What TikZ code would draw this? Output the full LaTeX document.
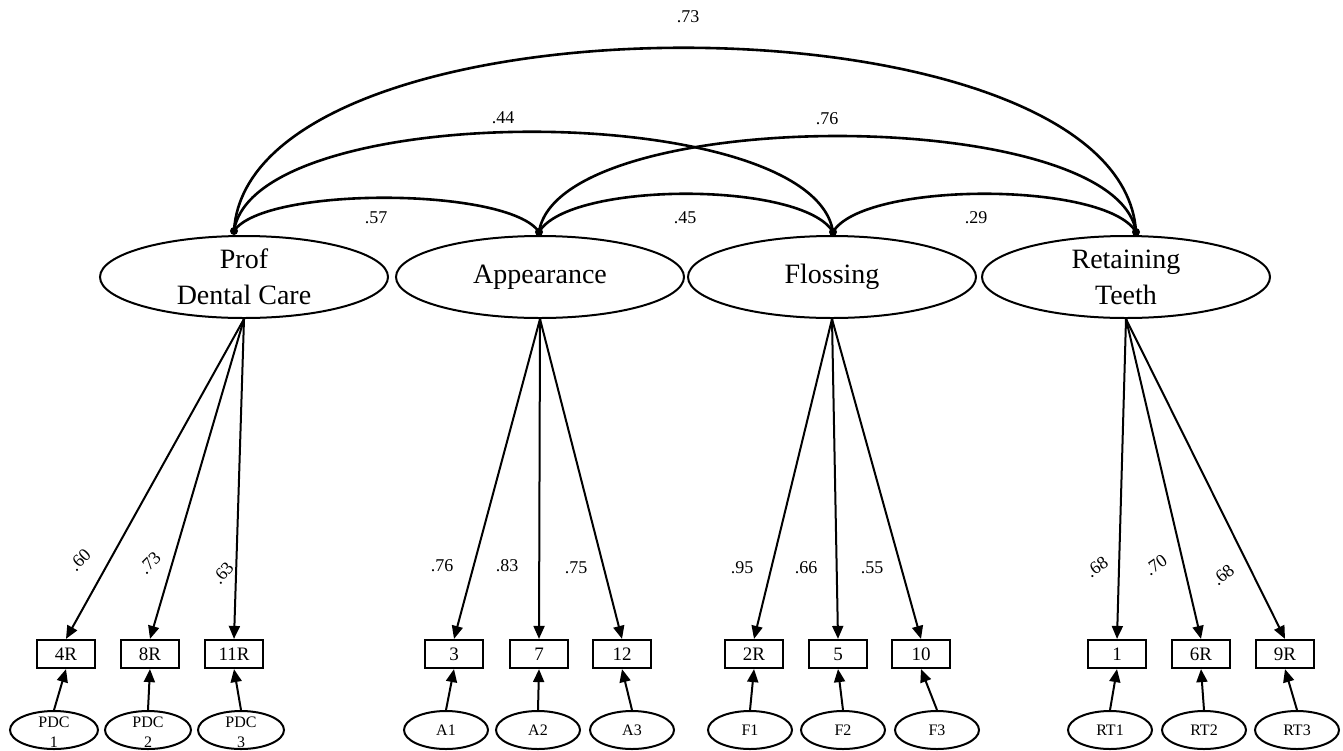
\documentclass[tikz,border=0pt]{standalone}
\usepackage{fontspec}
\setmainfont{Liberation Serif}
\usetikzlibrary{arrows.meta,shapes.geometric,calc}
\begin{document}
\begin{tikzpicture}[x=1pt,y=-1pt,
 latent/.style={draw, line width=2pt, ellipse, minimum width=288pt, minimum height=82pt, inner sep=0pt, align=center, font=\fontsize{28}{36}\selectfont},
 obsbox/.style={draw, line width=2.2pt, rectangle, minimum width=58pt, minimum height=28pt, inner sep=0pt, font=\fontsize{19}{20}\selectfont},
 err/.style={draw, line width=2pt, ellipse, minimum width=84pt, minimum height=38pt, inner sep=0pt, font=\fontsize{16}{20}\selectfont},
 load/.style={line width=2pt, -{Triangle[length=13pt,width=11pt]}},
 cov/.style={line width=2.6pt},
 cdot/.style={circle, fill, inner sep=0pt, minimum size=8pt},
 lab/.style={font=\fontsize{18}{20}\selectfont, inner sep=0pt},
]
\useasboundingbox (0,0) rectangle (1343,750);

% latent factors
\node[latent] (PDC) at (244,277) {Prof\\Dental Care};
\node[latent] (APP) at (540,277) {Appearance};
\node[latent] (FLO) at (832,277) {Flossing};
\node[latent] (RET) at (1126,277) {Retaining\\Teeth};

% covariance anchor dots
\node[cdot] (d1) at (234,231) {};
\node[cdot] (d2) at (539,232) {};
\node[cdot] (d3) at (833,232) {};
\node[cdot] (d4) at (1136,232) {};

% covariance arcs
\draw[cov] (d1.center) .. controls ($(d1.center)+(30,-45)$) and ($(d2.center)+(-30,-45)$) .. (d2.center);
\draw[cov] (d2.center) .. controls ($(d2.center)+(30,-51)$) and ($(d3.center)+(-30,-51)$) .. (d3.center);
\draw[cov] (d3.center) .. controls ($(d3.center)+(30,-51)$) and ($(d4.center)+(-30,-51)$) .. (d4.center);
\draw[cov] (d1.center) .. controls ($(d1.center)+(20,-133)$) and ($(d3.center)+(-20,-133)$) .. (d3.center);
\draw[cov] (d2.center) .. controls ($(d2.center)+(20,-128)$) and ($(d4.center)+(-20,-128)$) .. (d4.center);
\draw[cov] (d1.center) .. controls ($(d1.center)+(15,-245)$) and ($(d4.center)+(-15,-245)$) .. (d4.center);

\node[lab] (c14) at (688,17) {.73};
\node[lab] (c13) at (503,118) {.44};
\node[lab] (c24) at (827,119) {.76};
\node[lab] (c12) at (376,218) {.57};
\node[lab] (c23) at (685,218) {.45};
\node[lab] (c34) at (976,218) {.29};

% observed items
\node[obsbox] (b4R) at (66,654) {4R};
\node[obsbox] (b8R) at (150,654) {8R};
\node[obsbox] (b11R) at (234,654) {11R};
\node[obsbox] (b3) at (454,654) {3};
\node[obsbox] (b7) at (539,654) {7};
\node[obsbox] (b12) at (622,654) {12};
\node[obsbox] (b2R) at (754,654) {2R};
\node[obsbox] (b5) at (838,654) {5};
\node[obsbox] (b10) at (921,654) {10};
\node[obsbox] (b1) at (1117,654) {1};
\node[obsbox] (b6R) at (1201,654) {6R};
\node[obsbox] (b9R) at (1285,654) {9R};

% error terms
\node[err, minimum width=88pt] (ePDC1) at (54,730) {\smash{\raisebox{-8pt}{\begin{tabular}{@{}c@{}}PDC\\1\end{tabular}}}};
\node[err, minimum width=86pt] (ePDC2) at (148,730) {\smash{\raisebox{-8pt}{\begin{tabular}{@{}c@{}}PDC\\2\end{tabular}}}};
\node[err, minimum width=86pt] (ePDC3) at (241,730) {\smash{\raisebox{-8pt}{\begin{tabular}{@{}c@{}}PDC\\3\end{tabular}}}};
\node[err] (eA1) at (446,730) {A1};
\node[err] (eA2) at (538,730) {A2};
\node[err] (eA3) at (632,730) {A3};
\node[err] (eF1) at (750,730) {F1};
\node[err] (eF2) at (843,730) {F2};
\node[err] (eF3) at (937,730) {F3};
\node[err] (eRT1) at (1110,730) {RT1};
\node[err] (eRT2) at (1204,730) {RT2};
\node[err] (eRT3) at (1297,730) {RT3};

% loadings
\draw[load] (PDC.south) -- (b4R.north);
\draw[load] (PDC.south) -- (b8R.north);
\draw[load] (PDC.south) -- (b11R.north);
\draw[load] (APP.south) -- (b3.north);
\draw[load] (APP.south) -- (b7.north);
\draw[load] (APP.south) -- (b12.north);
\draw[load] (FLO.south) -- (b2R.north);
\draw[load] (FLO.south) -- (b5.north);
\draw[load] (FLO.south) -- (b10.north);
\draw[load] (RET.south) -- (b1.north);
\draw[load] (RET.south) -- (b6R.north);
\draw[load] (RET.south) -- (b9R.north);

% error arrows
\foreach \e/\b in {ePDC1/b4R, ePDC2/b8R, ePDC3/b11R, eA1/b3, eA2/b7, eA3/b12, eF1/b2R, eF2/b5, eF3/b10, eRT1/b1, eRT2/b6R, eRT3/b9R}
  \draw[load] (\e.north) -- (\b.south);

% loading labels
\node[lab, rotate=45] (l1) at (80,560) {.60};
\node[lab, rotate=45] (l2) at (150,563) {.73};
\node[lab, rotate=50] (l3) at (223,573) {.63};
\node[lab] (l4) at (442,566) {.76};
\node[lab] (l5) at (507,566) {.83};
\node[lab] (l6) at (576,568) {.75};
\node[lab] (l7) at (742,568) {.95};
\node[lab] (l8) at (806,568) {.66};
\node[lab] (l9) at (872,568) {.55};
\node[lab, rotate=35] (l10) at (1097,567) {.68};
\node[lab, rotate=35] (l11) at (1156,565) {.70};
\node[lab, rotate=40] (l12) at (1223,575) {.68};
\end{tikzpicture}
\end{document}
